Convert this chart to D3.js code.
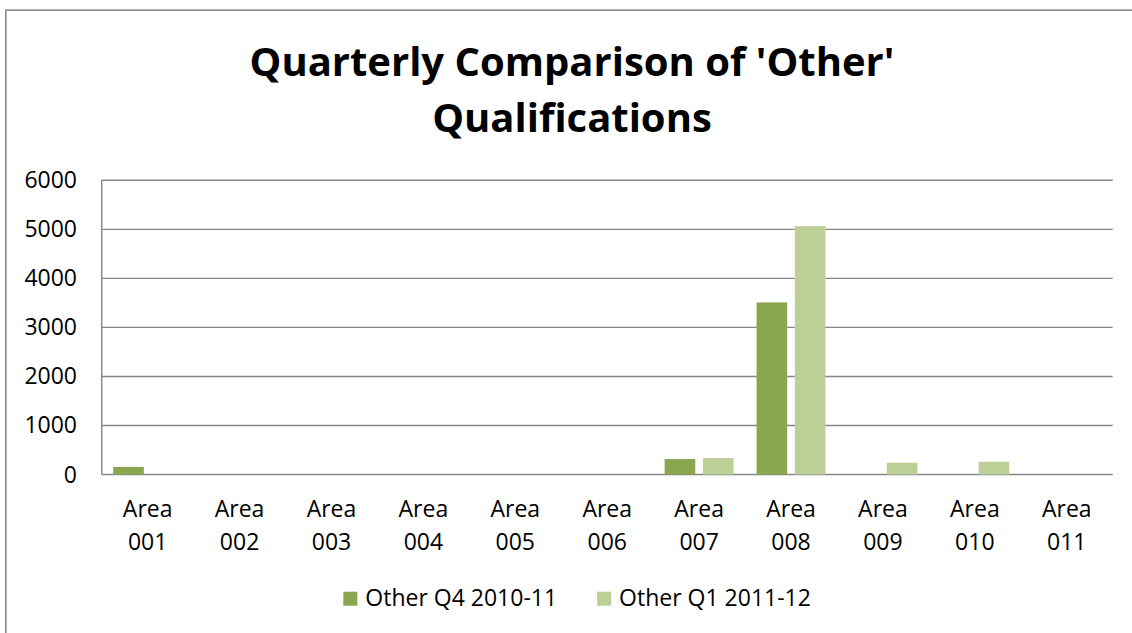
<!DOCTYPE html>
<html>
<head>
<meta charset="utf-8">
<script src="https://cdn.jsdelivr.net/npm/d3@7"></script>
<style>
  body { margin: 0; background: #fff; }
  svg text { font-family: "Open Sans", sans-serif; fill: #000; }
</style>
</head>
<body>
<div id="chart"></div>
<script>
var areas = ["001", "002", "003", "004", "005", "006", "007", "008", "009", "010", "011"];
var seriesNames = ["Other Q4 2010-11", "Other Q1 2011-12"];
var q4Values = [155, 0, 0, 0, 0, 0, 315, 3510, 0, 0, 0];
var q1Values = [0, 0, 0, 0, 0, 0, 335, 5065, 240, 260, 0];
var yTicks = [0, 1000, 2000, 3000, 4000, 5000, 6000];
var colors = ["#8aa64f", "#bbcf96"];

var w = 1132, h = 633;
var svg = d3.select("#chart").append("svg")
    .attr("width", w)
    .attr("height", h);

// outer chart border (only top and left fall inside the picture)
svg.append("rect")
    .attr("x", 5.8).attr("y", 10.2)
    .attr("width", 1140).attr("height", 640)
    .attr("fill", "none")
    .attr("stroke", "#8a8a8a")
    .attr("stroke-width", 1.6);

var plot = {left: 101.7, right: 1112.7, top: 180.3, bottom: 474.5};

var y = d3.scaleLinear().domain([0, 6000]).range([plot.bottom, plot.top]);
var x0 = d3.scaleBand().domain(areas).range([plot.left, plot.right]);
var x1 = d3.scaleBand().domain(seriesNames).range([0, x0.bandwidth()])
    .paddingInner(0.2).paddingOuter(0.3);

// gridlines
svg.selectAll(".grid")
    .data(yTicks)
    .enter().append("line")
    .attr("class", "grid")
    .attr("x1", plot.left).attr("x2", plot.right)
    .attr("y1", function(d) { return y(d); })
    .attr("y2", function(d) { return y(d); })
    .attr("stroke", "#878787")
    .attr("stroke-width", 1.4);

// value axis line
svg.append("line")
    .attr("x1", plot.left).attr("x2", plot.left)
    .attr("y1", plot.top).attr("y2", plot.bottom)
    .attr("stroke", "#878787")
    .attr("stroke-width", 1.4);

svg.selectAll(".ylab")
    .data(yTicks)
    .enter().append("text")
    .attr("class", "ylab")
    .attr("x", 77)
    .attr("y", function(d) { return y(d) + 8; })
    .attr("text-anchor", "end")
    .style("font-size", "23px")
    .text(function(d) { return d; });

// bars
var rows = areas.map(function(a, i) {
    return {area: a, vals: [q4Values[i], q1Values[i]]};
});

var grp = svg.selectAll(".grp")
    .data(rows)
    .enter().append("g")
    .attr("class", "grp")
    .attr("transform", function(d) { return "translate(" + x0(d.area) + ",0)"; });

grp.selectAll("rect")
    .data(function(d) { return d.vals.map(function(v, j) { return {s: seriesNames[j], v: v, j: j}; }); })
    .enter().append("rect")
    .filter(function(d) { return d.v > 0; })
    .attr("x", function(d) { return x1(d.s); })
    .attr("width", x1.bandwidth())
    .attr("y", function(d) { return y(d.v); })
    .attr("height", function(d) { return y(0) - y(d.v); })
    .attr("fill", function(d) { return colors[d.j]; });

// category labels
var cat = svg.selectAll(".cat")
    .data(areas)
    .enter().append("text")
    .attr("class", "cat")
    .attr("text-anchor", "middle")
    .style("font-size", "23px")
    .attr("transform", function(d) { return "translate(" + (x0(d) + x0.bandwidth() / 2) + ",0)"; });
cat.append("tspan").attr("x", 0).attr("y", 517).text("Area");
cat.append("tspan").attr("x", 0).attr("y", 550).text(function(d) { return d; });

// title
var title = svg.append("text")
    .attr("text-anchor", "middle")
    .style("font-size", "40px")
    .style("font-weight", "bold");
title.append("tspan").attr("x", 572).attr("y", 76).text("Quarterly Comparison of 'Other'");
title.append("tspan").attr("x", 572).attr("y", 132).text("Qualifications");

// legend
var legend = svg.append("g");
var lx = 343.3;
seriesNames.forEach(function(name, i) {
    legend.append("rect")
        .attr("x", lx).attr("y", 591.7)
        .attr("width", 14).attr("height", 14)
        .attr("fill", colors[i]);
    var t = legend.append("text")
        .attr("x", lx + 22).attr("y", 606)
        .style("font-size", "23px")
        .text(name);
    lx = lx + 22 + t.node().getComputedTextLength() + 40;
});
</script>
</body>
</html>
